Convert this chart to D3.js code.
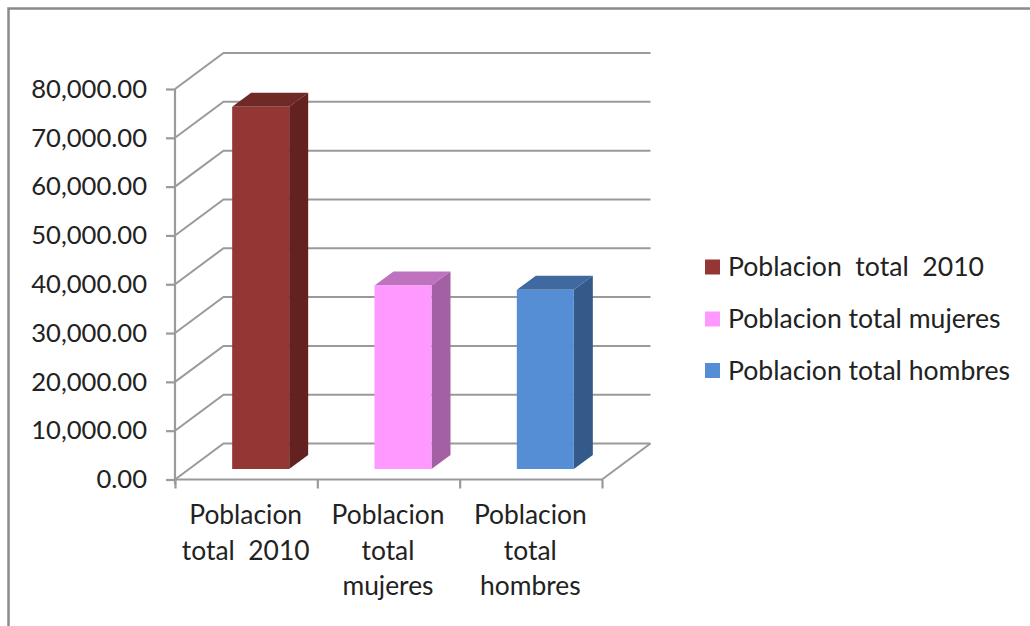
<!DOCTYPE html>
<html><head><meta charset="utf-8">
<script src="https://cdn.jsdelivr.net/npm/d3@7"></script>
<style>html,body{margin:0;background:#fff}svg{display:block}text{font-family:Lato,Carlito,sans-serif;fill:#222}</style>
</head><body><svg id="c" width="1030" height="626"></svg>
<script>
const categories = ["Poblacion total  2010","Poblacion total mujeres","Poblacion total hombres"];
const categoryLines = [["Poblacion","total  2010"],["Poblacion","total","mujeres"],["Poblacion","total","hombres"]];
const legendLabels = ["Poblacion  total  2010","Poblacion total mujeres","Poblacion total hombres"];
const values = [74200,37600,36700];
const frontColors = ["#943634","#FF99FF","#558ED5"];
const topColors = ["#6F2A28","#BF73BF","#406A9F"];
const sideColors = ["#632220","#A360A3","#345A8A"];
const yTicks = d3.range(0,80001,10000);

const svg = d3.select("#c");
svg.append("path").attr("d","M8.5,626V8.5H1030").attr("fill","none").attr("stroke","#8a8a8a").attr("stroke-width",2.5);

const y = d3.scaleLinear().domain([0,80000]).range([479.5,89]);
const x = d3.scaleBand().domain(categories).range([175,602]);
const wall = {dx:48.5,dy:-36};
const grid = "#9a9a9a";
const g = svg.append("g");
yTicks.forEach(t=>{
  g.append("path").attr("fill","none").attr("stroke",grid).attr("stroke-width",2)
   .attr("d",`M${x.range()[0]},${y(t)}l${wall.dx},${wall.dy}H${x.range()[1]+wall.dx}`);
});
g.append("path").attr("fill","none").attr("stroke",grid).attr("stroke-width",2)
 .attr("d",`M${x.range()[1]},${y(0)}l${wall.dx},${wall.dy}`);
const axisY = svg.append("g").attr("transform",`translate(${x.range()[0]},0)`)
  .call(d3.axisLeft(y).tickValues(yTicks).tickFormat(d3.format(",.2f")).tickSize(9).tickPadding(19));
const edges = categories.map(c=>x(c)).concat(x.range()[1]);
const axisX = svg.append("g").attr("transform",`translate(0,${y(0)})`)
  .call(d3.axisBottom(d3.scaleLinear().domain(x.range()).range(x.range())).tickValues(edges).tickFormat("").tickSize(9));
[axisY,axisX].forEach(a=>{a.selectAll("path,line").attr("stroke",grid).attr("stroke-width",2.2);a.select(".domain").attr("d",a===axisY?`M0,${y(0)+5}V${y(80000)}`:`M${x.range()[0]},0H${x.range()[1]}`);});
axisY.selectAll("text").attr("font-size",25.6).attr("fill","#222").style("font-family","Lato");

const barW = 57, depth = {dx:19,dy:-14}, floor = {dx:14.5,dy:-10.5};
const bars = svg.append("g").selectAll("g").data(categories).join("g");
const bx = c => x(c)+x.bandwidth()/2-barW/2+floor.dx;
const by = v => y(v)+floor.dy;
bars.append("path").attr("fill",(d,i)=>topColors[i])
  .attr("d",(d,i)=>`M${bx(d)},${by(values[i])}l${depth.dx},${depth.dy}h${barW}l${-depth.dx},${-depth.dy}z`);
bars.append("path").attr("fill",(d,i)=>sideColors[i])
  .attr("d",(d,i)=>`M${bx(d)+barW},${by(values[i])}l${depth.dx},${depth.dy}V${by(0)+depth.dy}l${-depth.dx},${-depth.dy}z`);
bars.append("rect").attr("fill",(d,i)=>frontColors[i])
  .attr("x",d=>bx(d)).attr("width",barW)
  .attr("y",(d,i)=>by(values[i])).attr("height",(d,i)=>by(0)-by(values[i]));

categories.forEach((c,i)=>{
  const t = svg.append("text").attr("text-anchor","middle").attr("font-size",26.4).style("white-space","pre");
  categoryLines[i].forEach((l,j)=>t.append("tspan").attr("x",x(c)+x.bandwidth()/2-0.5).attr("y",524+j*35.5).text(l));
});

const legendY = [267,319,370.5];
legendLabels.forEach((l,i)=>{
  svg.append("rect").attr("x",705).attr("y",legendY[i]-7.5).attr("width",15).attr("height",15).attr("fill",frontColors[i]);
  svg.append("text").attr("x",728).attr("y",legendY[i]+9).attr("font-size",26.6).style("white-space","pre").text(l);
});
</script></body></html>
